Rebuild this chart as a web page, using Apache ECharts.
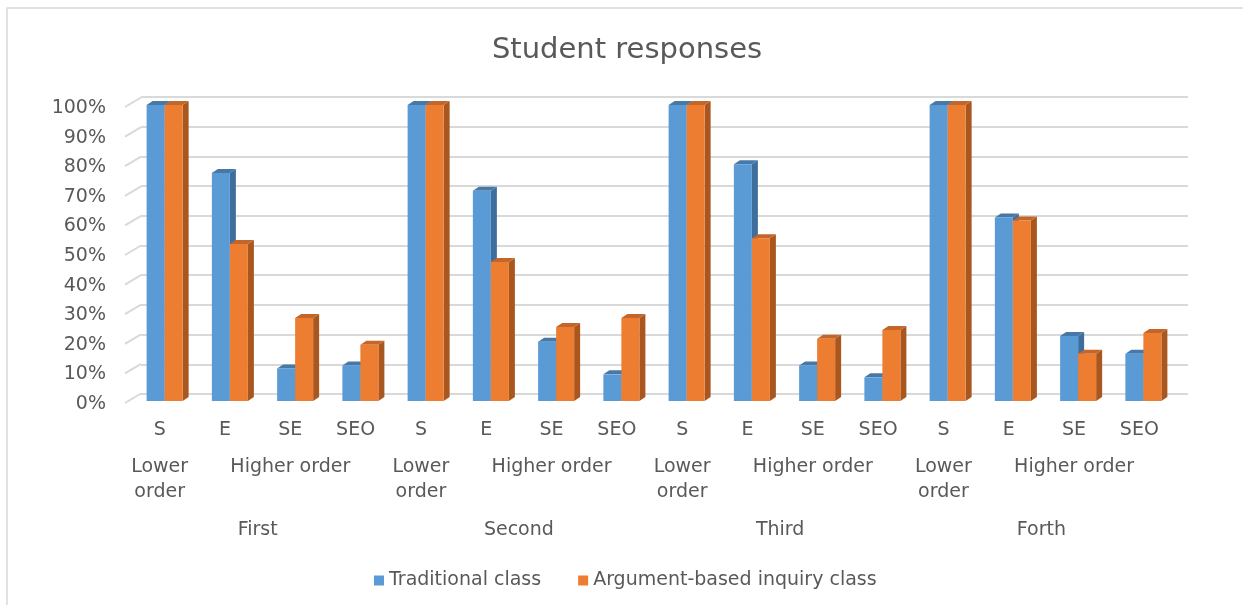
<!DOCTYPE html>
<html>
<head>
<meta charset="utf-8">
<script src="https://cdn.jsdelivr.net/npm/echarts@6/dist/echarts.min.js"></script>
<style>
  html, body { margin: 0; padding: 0; background: #fff; }
  #chart { width: 1243px; height: 605px; }
</style>
</head>
<body>
<div id="chart"></div>
<script>
const rounds = ['First', 'Second', 'Third', 'Forth']
const levels = ['S', 'E', 'SE', 'SEO']
const orders = ['Lower order', 'Higher order', 'Higher order', 'Higher order']
const traditional = [100, 77, 11, 12, 100, 71, 20, 9, 100, 80, 12, 8, 100, 62, 22, 16]
const argument = [100, 53, 28, 19, 100, 47, 25, 28, 100, 55, 21, 24, 100, 61, 16, 23]
const yTicks = [0, 10, 20, 30, 40, 50, 60, 70, 80, 90, 100]

const categories = []
const orderCats = []
rounds.forEach(function () {
  levels.forEach(function (l, i) {
    categories.push(l)
    orderCats.push(orders[i])
  })
})

const textColor = '#595959'
const font = 'DejaVu Sans'

// 3D-looking column: front face + side face + top face
function box (idx, front, side, topc) {
  return function (params, api) {
    const cat = api.value(0)
    const v = api.value(1)
    const base = api.coord([cat, 0])
    const top = api.coord([cat, v])
    const band = api.size([1, 0])[0]
    const w = band * 0.276
    const x0 = base[0] - w + idx * w
    const dx = 6
    const dy = 4
    return {
      type: 'group',
      children: [
        {
          type: 'polygon',
          shape: { points: [[x0 + w, top[1]], [x0 + w + dx, top[1] - dy], [x0 + w + dx, base[1] - dy], [x0 + w, base[1]]] },
          style: { fill: side }
        },
        {
          type: 'polygon',
          shape: { points: [[x0, top[1]], [x0 + dx, top[1] - dy], [x0 + w + dx, top[1] - dy], [x0 + w, top[1]]] },
          style: { fill: topc }
        },
        {
          type: 'rect',
          shape: { x: x0, y: top[1], width: w, height: base[1] - top[1] },
          style: { fill: front }
        }
      ]
    }
  }
}

const option = {
  backgroundColor: '#fff',
  animation: false,
  textStyle: { fontFamily: font },
  title: {
    text: 'Student responses',
    left: 622,
    textAlign: 'center',
    top: 31,
    textStyle: { color: textColor, fontSize: 29, fontWeight: 'normal', fontFamily: font }
  },
  graphic: [{
    type: 'rect',
    shape: { x: 7, y: 8, width: 1400, height: 800 },
    style: { fill: 'none', stroke: '#d9d9d9', lineWidth: 1.5 },
    silent: true
  }],
  legend: {
    left: 369,
    top: 566,
    itemWidth: 10,
    itemHeight: 10,
    itemGap: 37,
    icon: 'rect',
    textStyle: { color: textColor, fontSize: 19, fontFamily: font },
    data: ['Traditional class', 'Argument-based inquiry class']
  },
  grid: [
    // front plane: columns
    { left: 132, right: 67, top: 105, bottom: 204 },
    // back wall: gridlines
    { left: 141, right: 55, top: 97, bottom: 211 },
    // category labels
    { left: 127, right: 71, top: 105, bottom: 204 },
    // value labels
    { left: 132, right: 67, top: 108, bottom: 201 }
  ],
  xAxis: [
    { type: 'category', gridIndex: 0, data: categories, show: false },
    { type: 'category', gridIndex: 1, data: categories, show: false },
    {
      type: 'category', gridIndex: 2, data: categories, position: 'bottom',
      axisLine: { show: false }, axisTick: { show: false },
      axisLabel: { interval: 0, margin: 20, color: textColor, fontSize: 19, fontFamily: font }
    },
    {
      type: 'category', gridIndex: 2, data: orderCats, position: 'bottom',
      axisLine: { show: false }, axisTick: { show: false },
      axisLabel: {
        interval: 0, margin: 54, color: textColor, fontSize: 19, lineHeight: 25, fontFamily: font,
        formatter: function (val, i) {
          if (i % 4 === 0) return val.replace(' ', '\n')
          if (i % 4 === 2) return val
          return ''
        }
      }
    },
    {
      type: 'category', gridIndex: 2, data: rounds, position: 'bottom',
      axisLine: { show: false }, axisTick: { show: false },
      axisLabel: { interval: 0, margin: 117, color: textColor, fontSize: 19, lineHeight: 25, fontFamily: font }
    },
    { type: 'category', gridIndex: 3, data: categories, show: false }
  ],
  yAxis: [
    { type: 'value', gridIndex: 0, min: 0, max: 100, interval: 10, show: false },
    {
      type: 'value', gridIndex: 1, min: 0, max: 100, interval: 10,
      axisLine: { show: false }, axisTick: { show: false }, axisLabel: { show: false },
      splitLine: { lineStyle: { color: '#d9d9d9', width: 2 } }
    },
    { type: 'value', gridIndex: 2, min: 0, max: 100, show: false },
    {
      type: 'value', gridIndex: 3, min: 0, max: 100, interval: 10,
      axisLine: { show: false }, axisTick: { show: false }, splitLine: { show: false },
      axisLabel: { margin: 26, color: textColor, fontSize: 19, fontFamily: font, formatter: '{value}%' }
    }
  ],
  series: [
    {
      name: 'side walls',
      type: 'custom',
      xAxisIndex: 0,
      yAxisIndex: 0,
      silent: true,
      data: yTicks.map(function (t) { return [0, t] }),
      renderItem: function (params, api) {
        const p = api.coord([0, api.value(1)])
        const left = p[0] - api.size([1, 0])[0] / 2
        return {
          type: 'line',
          shape: { x1: left - 7, y1: p[1] + 2, x2: left + 9, y2: p[1] - 7.5 },
          style: { stroke: '#d9d9d9', lineWidth: 2 }
        }
      }
    },
    {
      name: 'Traditional class',
      type: 'custom',
      xAxisIndex: 0,
      yAxisIndex: 0,
      itemStyle: { color: '#5B9BD5' },
      data: traditional.map(function (v, i) { return [i, v] }),
      renderItem: box(0, '#5B9BD5', '#3E6E9C', '#4678A8')
    },
    {
      name: 'Argument-based inquiry class',
      type: 'custom',
      xAxisIndex: 0,
      yAxisIndex: 0,
      itemStyle: { color: '#ED7D31' },
      data: argument.map(function (v, i) { return [i, v] }),
      renderItem: box(1, '#ED7D31', '#A9561F', '#C4652A')
    }
  ]
}

const chart = echarts.init(document.getElementById('chart'))
chart.setOption(option)
</script>
</body>
</html>
